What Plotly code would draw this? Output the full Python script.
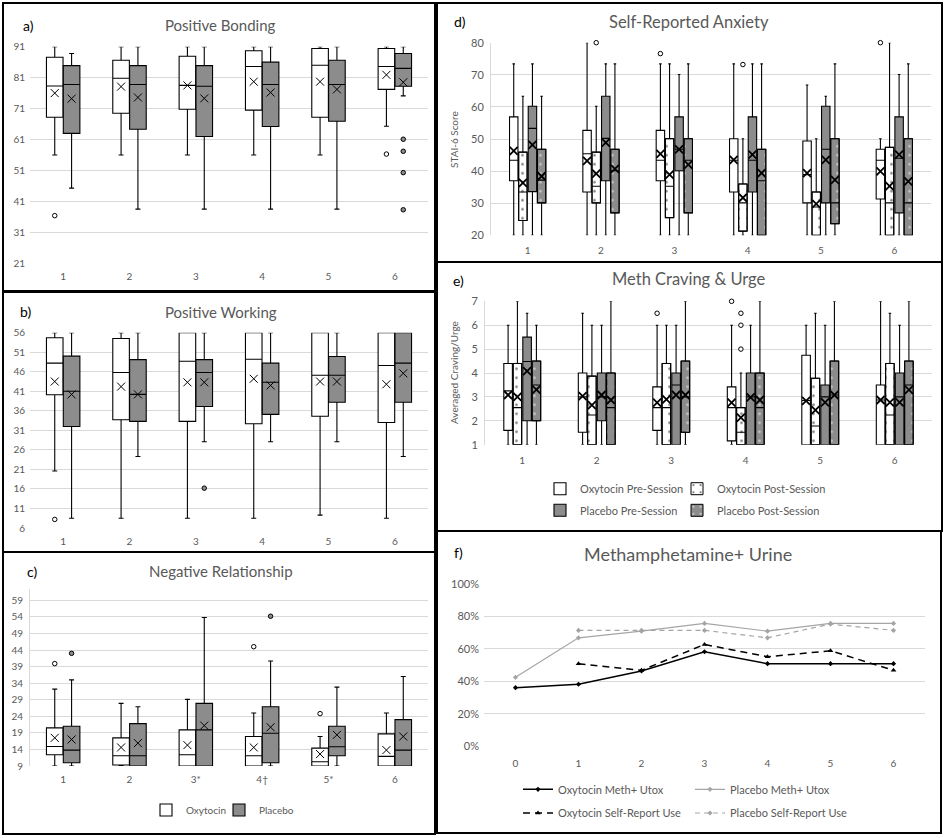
import plotly.graph_objects as go

W, H = 946, 838
FONT = "Lato"
GRID = "#d9d9d9"
TXT = "#595959"
GRAY = "#8c8c8c"

SESSIONS = [1, 2, 3, 4, 5, 6]
AB_TICKS = ["1", "2", "3", "4", "5", "6"]
C_TICKS = ["1", "2", "3*", "4\u2020", "5*", "6"]

# ---------------- a) Positive Bonding ----------------
A_OXY_Q1 = [68.2, 69.5, 70.8, 70.5, 68.2, 77.2]
A_OXY_MED = [78.3, 80.8, 78.5, 84.6, 85.0, 84.6]
A_OXY_Q3 = [87.6, 86.6, 87.9, 89.7, 90.4, 90.4]
A_OXY_LO = [56, 56, 56, 56, 56, 65.3]
A_OXY_HI = [91, 91, 91, 91, 91, 91]
A_OXY_MEAN = [76.0, 78.1, 78.5, 79.7, 79.7, 81.9]
A_OXY_OUT_S = [1, 6]
A_OXY_OUT_V = [36.4, 56.3]
A_PLA_Q1 = [63.0, 64.3, 62.0, 65.2, 66.9, 78.2]
A_PLA_MED = [78.8, 78.8, 78.2, 78.8, 78.8, 84.0]
A_PLA_Q3 = [84.9, 84.9, 84.9, 86.0, 86.6, 88.8]
A_PLA_LO = [45.3, 38.5, 38.5, 38.5, 38.5, 75.1]
A_PLA_HI = [88.8, 91, 91, 91, 91, 91]
A_PLA_MEAN = [74.2, 74.6, 74.3, 76.2, 77.2, 79.5]
A_PLA_OUT_S = [6, 6, 6, 6]
A_PLA_OUT_V = [61.1, 57.2, 50.3, 38.3]

# ---------------- b) Positive Working ----------------
B_OXY_Q1 = [40.1, 33.7, 33.3, 32.7, 34.6, 33.0]
B_OXY_MED = [48.2, 45.8, 48.7, 49.2, 45.1, 47.6]
B_OXY_Q3 = [54.7, 54.5, 56, 56, 56, 56]
B_OXY_LO = [20.6, 8.5, 8.5, 8.5, 9.3, 8.5]
B_OXY_HI = [56, 56, 56, 56, 56, 56]
B_OXY_MEAN = [43.5, 42.2, 43.3, 44.2, 43.5, 42.8]
B_OXY_OUT_S = [1]
B_OXY_OUT_V = [8.2]
B_PLA_Q1 = [32.0, 33.3, 37.1, 35.1, 38.2, 38.2]
B_PLA_MED = [41.0, 40.2, 45.8, 43.3, 45.1, 48.2]
B_PLA_Q3 = [50.0, 49.1, 49.1, 48.2, 49.9, 56]
B_PLA_LO = [8.5, 24.3, 28.1, 28.1, 28.1, 24.3]
B_PLA_HI = [56, 56, 56, 56, 56, 56]
B_PLA_MEAN = [40.2, 40.2, 43.3, 42.5, 43.5, 45.6]
B_PLA_OUT_S = [3]
B_PLA_OUT_V = [16.2]

# ---------------- c) Negative Relationship ----------------
C_OXY_Q1 = [12.4, 9.3, 9, 9, 9, 9]
C_OXY_MED = [14.9, 12.1, 12.4, 12.1, 10.3, 11.9]
C_OXY_Q3 = [20.5, 17.5, 19.9, 17.9, 14.4, 18.7]
C_OXY_LO = [9, 9, 9, 9, 9, 9]
C_OXY_HI = [32.2, 27.9, 29.1, 25.0, 17.9, 25.0]
C_OXY_MEAN = [17.5, 14.6, 15.3, 14.6, 12.6, 13.8]
C_OXY_OUT_S = [1, 4, 5]
C_OXY_OUT_V = [39.9, 45.0, 24.8]
C_PLA_Q1 = [10.0, 9, 9, 10.0, 12.1, 9]
C_PLA_MED = [13.8, 12.1, 19.9, 18.9, 14.8, 13.8]
C_PLA_Q3 = [21.0, 21.8, 27.9, 26.9, 21.0, 23.0]
C_PLA_LO = [9, 9, 9, 9, 9, 9]
C_PLA_HI = [35.0, 26.9, 53.8, 40.7, 32.8, 36.0]
C_PLA_MEAN = [17.0, 15.9, 21.2, 20.7, 18.4, 17.9]
C_PLA_OUT_S = [1, 4]
C_PLA_OUT_V = [43.0, 54.2]

# ---------------- d) Self-Reported Anxiety (STAI-6) ----------------
D_OPRE_Q1 = [37.0, 33.5, 37.0, 33.5, 30.1, 31.3]
D_OPRE_MED = [43.4, 45.4, 43.4, 43.4, 38.9, 43.4]
D_OPRE_Q3 = [56.9, 52.7, 52.7, 50.1, 49.4, 46.8]
D_OPRE_LO = [20, 20, 20, 20, 20, 20]
D_OPRE_HI = [73.4, 80, 73.4, 73.4, 66.8, 50.1]
D_OPRE_MEAN = [46.3, 43.2, 45.4, 43.5, 39.4, 39.9]
D_OPRE_OUT_S = [3, 6]
D_OPRE_OUT_V = [76.6, 80]
D_OPOST_Q1 = [24.6, 30.1, 25.5, 21.3, 20, 20]
D_OPOST_MED = [33.5, 35.3, 35.3, 30.1, 28.8, 30.1]
D_OPOST_Q3 = [45.9, 45.9, 50.1, 36.0, 33.5, 47.4]
D_OPOST_LO = [20, 20, 20, 20, 20, 20]
D_OPOST_HI = [63.3, 60.2, 73.4, 50.1, 50.1, 80]
D_OPOST_MEAN = [36.3, 39.2, 38.9, 31.7, 29.8, 35.3]
D_OPOST_OUT_S = [2, 4]
D_OPOST_OUT_V = [80, 73.2]
D_PPRE_Q1 = [33.6, 37.0, 40.1, 33.5, 30.1, 27.0]
D_PPRE_MED = [53.3, 50.2, 46.8, 43.4, 46.8, 44.0]
D_PPRE_Q3 = [60.2, 63.3, 56.9, 56.9, 60.2, 56.9]
D_PPRE_LO = [20, 20, 20, 20, 20, 20]
D_PPRE_HI = [73.4, 73.4, 70.1, 73.4, 63.3, 70.1]
D_PPRE_MEAN = [48.2, 48.9, 46.8, 45.1, 43.5, 45.1]
D_PPOST_Q1 = [30.1, 27.0, 27.0, 20, 23.6, 20]
D_PPOST_MED = [37.2, 40.1, 43.4, 37.0, 30.1, 30.1]
D_PPOST_Q3 = [46.8, 46.8, 50.1, 46.8, 50.1, 50.1]
D_PPOST_LO = [20, 20, 20, 20, 20, 20]
D_PPOST_HI = [63.3, 73.4, 73.4, 73.4, 73.4, 73.4]
D_PPOST_MEAN = [38.4, 40.7, 42.0, 39.4, 37.3, 36.8]

# ---------------- e) Meth Craving & Urge ----------------
E_OPRE_Q1 = [1.6, 1.52, 1.6, 1.16, 1, 1]
E_OPRE_MED = [3.25, 3.0, 2.55, 2.55, 2.85, 2.87]
E_OPRE_Q3 = [4.4, 4.0, 3.42, 3.42, 4.74, 3.5]
E_OPRE_LO = [1, 1, 1, 1, 1, 1]
E_OPRE_HI = [6, 6.5, 6, 6, 6, 7]
E_OPRE_MEAN = [3.08, 3.03, 2.76, 2.76, 2.83, 2.87]
E_OPRE_OUT_S = [3, 4]
E_OPRE_OUT_V = [6.5, 7]
E_OPOST_Q1 = [1, 1, 1, 1, 1, 1]
E_OPOST_MED = [2.55, 2.24, 2.55, 1.52, 1.78, 2.24]
E_OPOST_Q3 = [4.4, 3.87, 4.4, 2.55, 3.78, 4.4]
E_OPOST_LO = [1, 1, 1, 1, 1, 1]
E_OPOST_HI = [7, 6, 6, 4, 6.5, 6.5]
E_OPOST_MEAN = [3.0, 2.66, 2.9, 2.13, 2.45, 2.77]
E_OPOST_OUT_S = [4, 4, 4]
E_OPOST_OUT_V = [6.5, 6.0, 5.0]
E_PPRE_Q1 = [2.0, 2.0, 1, 1, 1, 1]
E_PPRE_MED = [4.48, 3.0, 3.5, 3.0, 3.0, 3.0]
E_PPRE_Q3 = [5.5, 4.0, 4.0, 4.0, 3.5, 4.0]
E_PPRE_LO = [1, 1, 1, 1, 1, 1]
E_PPRE_HI = [6.5, 6, 6, 6, 6, 6]
E_PPRE_MEAN = [4.08, 3.08, 3.08, 2.98, 2.77, 2.77]
E_PPOST_Q1 = [2.0, 1, 1.52, 1, 1, 1]
E_PPOST_MED = [3.5, 2.55, 3.0, 2.55, 3.08, 3.5]
E_PPOST_Q3 = [4.5, 4.0, 4.5, 4.0, 4.5, 4.5]
E_PPOST_LO = [1, 1, 1, 1, 1, 1]
E_PPOST_HI = [6, 7, 7, 7, 7, 7]
E_PPOST_MEAN = [3.3, 2.87, 3.08, 2.87, 3.08, 3.29]

# ---------------- f) Methamphetamine+ Urine (%) ----------------
F_WEEKS = [0, 1, 2, 3, 4, 5, 6]
F_OXY_UTOX = [36.1, 38.2, 46.4, 58.3, 50.9, 50.9, 50.9]
F_PLA_UTOX = [42.5, 66.9, 71.0, 75.8, 71.0, 75.8, 75.8]
F_SR_WEEKS = [1, 2, 3, 4, 5, 6]
F_OXY_SELF = [50.9, 46.8, 62.8, 55.2, 58.9, 46.8]
F_PLA_SELF = [71.5, 71.5, 71.5, 66.9, 75.4, 71.5]
F_YTICKS = [0, 20, 40, 60, 80, 100]


def dom_x(a, b):
    return [a / W, b / W]


def dom_y(top, bottom):
    return [1 - bottom / H, 1 - top / H]


fig = go.Figure()


def box_set(ax, off, width, q1, med, q3, lo, hi, mean, fill, name,
            out_s=None, out_v=None, dots=None, legend=None, lw=None, xsize=8, xw=1.0):
    xa, ya = ax
    xs = [s + off for s in SESSIONS]
    leg = {} if legend is None else {"legend": legend}
    if lw is not None:
        leg["legendwidth"] = lw
    show_box = legend is not None and dots is None
    if dots is not None:
        fig.add_trace(go.Bar(
            x=xs, y=[b - a for a, b in zip(q1, q3)], base=q1, width=width,
            marker=dict(color=fill, line=dict(color="black", width=1),
                        pattern=dict(shape=".", fgcolor=dots, bgcolor=fill,
                                     size=9, solidity=0.07)),
            name=name, showlegend=legend is not None, hoverinfo="skip",
            xaxis=xa, yaxis=ya, **leg))
        leg = {k: v for k, v in leg.items() if k != "legendwidth"}
    fig.add_trace(go.Box(
        x=xs, q1=q1, median=med, q3=q3, lowerfence=lo, upperfence=hi,
        width=width, whiskerwidth=0.3, boxpoints=False,
        fillcolor="rgba(0,0,0,0)" if dots is not None else fill,
        line=dict(color="black", width=1.1),
        name=name, showlegend=show_box, hoverinfo="skip",
        xaxis=xa, yaxis=ya, **leg))
    fig.add_trace(go.Scatter(
        x=xs, y=mean, mode="markers", showlegend=False, hoverinfo="skip",
        marker=dict(symbol="x-thin", size=xsize, color="black",
                    line=dict(color="black", width=xw)),
        xaxis=xa, yaxis=ya))
    if out_s:
        fig.add_trace(go.Scatter(
            x=[s + off for s in out_s], y=out_v, mode="markers",
            showlegend=False, hoverinfo="skip", cliponaxis=False,
            marker=dict(symbol="circle", size=4.5, color=fill,
                        line=dict(color="black", width=1)),
            xaxis=xa, yaxis=ya))


OFF2, W2 = 0.127, 0.25
# a
box_set(("x", "y"), -OFF2, W2, A_OXY_Q1, A_OXY_MED, A_OXY_Q3, A_OXY_LO, A_OXY_HI,
        A_OXY_MEAN, "white", "Oxytocin", A_OXY_OUT_S, A_OXY_OUT_V)
box_set(("x", "y"), OFF2, W2, A_PLA_Q1, A_PLA_MED, A_PLA_Q3, A_PLA_LO, A_PLA_HI,
        A_PLA_MEAN, GRAY, "Placebo", A_PLA_OUT_S, A_PLA_OUT_V)
# b
box_set(("x2", "y2"), -OFF2, W2, B_OXY_Q1, B_OXY_MED, B_OXY_Q3, B_OXY_LO, B_OXY_HI,
        B_OXY_MEAN, "white", "Oxytocin", B_OXY_OUT_S, B_OXY_OUT_V)
box_set(("x2", "y2"), OFF2, W2, B_PLA_Q1, B_PLA_MED, B_PLA_Q3, B_PLA_LO, B_PLA_HI,
        B_PLA_MEAN, GRAY, "Placebo", B_PLA_OUT_S, B_PLA_OUT_V)
# c
box_set(("x3", "y3"), -OFF2, W2, C_OXY_Q1, C_OXY_MED, C_OXY_Q3, C_OXY_LO, C_OXY_HI,
        C_OXY_MEAN, "white", "Oxytocin", C_OXY_OUT_S, C_OXY_OUT_V, legend="legend", lw=28)
box_set(("x3", "y3"), OFF2, W2, C_PLA_Q1, C_PLA_MED, C_PLA_Q3, C_PLA_LO, C_PLA_HI,
        C_PLA_MEAN, GRAY, "Placebo", C_PLA_OUT_S, C_PLA_OUT_V, legend="legend", lw=50)

OFF4 = [-0.19, -0.065, 0.065, 0.19]
W4 = 0.115
# d
box_set(("x4", "y4"), OFF4[0], W4, D_OPRE_Q1, D_OPRE_MED, D_OPRE_Q3, D_OPRE_LO, D_OPRE_HI,
        D_OPRE_MEAN, "white", "Oxytocin Pre-Session", D_OPRE_OUT_S, D_OPRE_OUT_V, xsize=8, xw=1.8)
box_set(("x4", "y4"), OFF4[1], W4, D_OPOST_Q1, D_OPOST_MED, D_OPOST_Q3, D_OPOST_LO, D_OPOST_HI,
        D_OPOST_MEAN, "white", "Oxytocin Post-Session", D_OPOST_OUT_S, D_OPOST_OUT_V,
        dots="black", xsize=8, xw=1.8)
box_set(("x4", "y4"), OFF4[2], W4, D_PPRE_Q1, D_PPRE_MED, D_PPRE_Q3, D_PPRE_LO, D_PPRE_HI,
        D_PPRE_MEAN, GRAY, "Placebo Pre-Session", xsize=8, xw=1.8)
box_set(("x4", "y4"), OFF4[3], W4, D_PPOST_Q1, D_PPOST_MED, D_PPOST_Q3, D_PPOST_LO, D_PPOST_HI,
        D_PPOST_MEAN, GRAY, "Placebo Post-Session", dots="white", xsize=8, xw=1.8)
# e
box_set(("x5", "y5"), OFF4[0], W4, E_OPRE_Q1, E_OPRE_MED, E_OPRE_Q3, E_OPRE_LO, E_OPRE_HI,
        E_OPRE_MEAN, "white", "Oxytocin Pre-Session", E_OPRE_OUT_S, E_OPRE_OUT_V,
        legend="legend2", lw=92, xsize=8, xw=1.8)
box_set(("x5", "y5"), OFF4[1], W4, E_OPOST_Q1, E_OPOST_MED, E_OPOST_Q3, E_OPOST_LO, E_OPOST_HI,
        E_OPOST_MEAN, "white", "Oxytocin Post-Session", E_OPOST_OUT_S, E_OPOST_OUT_V,
        dots="black", legend="legend2", lw=140, xsize=8, xw=1.8)
box_set(("x5", "y5"), OFF4[2], W4, E_PPRE_Q1, E_PPRE_MED, E_PPRE_Q3, E_PPRE_LO, E_PPRE_HI,
        E_PPRE_MEAN, GRAY, "Placebo Pre-Session", legend="legend3", lw=92, xsize=8, xw=1.8)
box_set(("x5", "y5"), OFF4[3], W4, E_PPOST_Q1, E_PPOST_MED, E_PPOST_Q3, E_PPOST_LO, E_PPOST_HI,
        E_PPOST_MEAN, GRAY, "Placebo Post-Session", dots="white", legend="legend3", lw=140,
        xsize=8, xw=1.8)

# f
LGRAY = "#a5a5a5"
fig.add_trace(go.Scatter(x=F_WEEKS, y=F_OXY_UTOX, mode="lines+markers", name="Oxytocin Meth+ Utox",
                         line=dict(color="black", width=1.5), marker=dict(symbol="diamond", size=4),
                         xaxis="x6", yaxis="y6", legend="legend4", legendwidth=127,
                         hoverinfo="skip"))
fig.add_trace(go.Scatter(x=F_WEEKS, y=F_PLA_UTOX, mode="lines+markers", name="Placebo Meth+ Utox",
                         line=dict(color=LGRAY, width=1.2), marker=dict(symbol="diamond", size=4),
                         xaxis="x6", yaxis="y6", legend="legend4", legendwidth=150,
                         hoverinfo="skip"))
fig.add_trace(go.Scatter(x=F_SR_WEEKS, y=F_OXY_SELF, mode="lines+markers", name="Oxytocin Self-Report Use",
                         line=dict(color="black", width=1.5, dash="7px,5px"),
                         marker=dict(symbol="triangle-up", size=5),
                         xaxis="x6", yaxis="y6", legend="legend5", legendwidth=127,
                         hoverinfo="skip"))
fig.add_trace(go.Scatter(x=F_SR_WEEKS, y=F_PLA_SELF, mode="lines+markers", name="Placebo Self-Report Use",
                         line=dict(color=LGRAY, width=1.2, dash="5px,4px"),
                         marker=dict(symbol="diamond", size=4),
                         xaxis="x6", yaxis="y6", legend="legend5", legendwidth=150,
                         hoverinfo="skip"))

tickfont = dict(family=FONT, size=10, color=TXT)


def xcfg(domain, anchor, ticktext, rng=(0.5, 6.5), tickvals=SESSIONS, standoff=6):
    return dict(domain=dom_x(*domain), anchor=anchor, range=list(rng), tickmode="array",
                tickvals=tickvals, ticktext=ticktext, showgrid=False, zeroline=False,
                showline=False, ticks="", tickfont=tickfont, ticklabelstandoff=standoff,
                fixedrange=True, automargin=False)


def ycfg(domain, anchor, rng, tickvals, ticktext=None, line=False, size=10):
    return dict(domain=dom_y(*domain), anchor=anchor, range=list(rng), tickmode="array",
                tickvals=tickvals, ticktext=ticktext if ticktext else [str(v) for v in tickvals],
                showgrid=True, gridcolor=GRID, gridwidth=1, zeroline=False,
                showline=line, linecolor=GRID, linewidth=1, ticks="",
                tickfont=dict(family=FONT, size=size, color=TXT), ticklabelstandoff=4,
                fixedrange=True, automargin=False)


def legend_cfg(x, y, size=11, xanchor="left"):
    return dict(x=x / W, y=1 - y / H, xanchor=xanchor, yanchor="middle", orientation="h",
                font=dict(family=FONT, size=size, color=TXT), bgcolor="rgba(0,0,0,0)",
                itemclick=False, itemdoubleclick=False)


fig.update_layout(
    width=W, height=H, margin=dict(l=0, r=0, t=0, b=0, pad=0, autoexpand=False),
    autosize=False,
    paper_bgcolor="white", plot_bgcolor="white",
    boxmode="overlay", barmode="overlay", font=dict(family=FONT, color=TXT),
    xaxis=xcfg((30, 428), "y", AB_TICKS),
    yaxis=ycfg((46.7, 263.3), "x", (21, 91), list(range(21, 92, 10))),
    xaxis2=xcfg((30, 428), "y2", AB_TICKS),
    yaxis2=ycfg((332.7, 528), "x2", (6, 56), list(range(6, 57, 5))),
    xaxis3=xcfg((30, 428), "y3", C_TICKS),
    yaxis3=ycfg((588.7, 766), "x3", (9, 62.5), list(range(9, 60, 5)), line=True),
    xaxis4=xcfg((491, 931), "y4", AB_TICKS, standoff=8),
    yaxis4=ycfg((42.7, 235.3), "x4", (20, 80), list(range(20, 81, 10)), line=True, size=11),
    xaxis5=xcfg((485, 932), "y5", AB_TICKS, standoff=8),
    yaxis5=ycfg((301.3, 444.7), "x5", (1, 7), list(range(1, 8)), line=True, size=11),
    xaxis6=xcfg((484, 925), "y6", [str(v) for v in F_WEEKS], rng=(-0.5, 6.5),
                tickvals=F_WEEKS, standoff=10),
    yaxis6=ycfg((584.3, 746), "x6", (0, 100), F_YTICKS,
                ticktext=[f"{v}%" for v in F_YTICKS], size=11),
    legend=legend_cfg(146, 810, size=10),
    legend2=legend_cfg(540, 488.7),
    legend3=legend_cfg(540, 510.3),
    legend4=legend_cfg(518, 789.3),
    legend5=legend_cfg(518, 813),
)

# panel borders
PANELS = [(3, 3, 435, 291), (3, 292, 435, 552), (3, 552, 435, 834),
          (437, 3, 942, 262), (437, 262, 942, 531), (437, 531, 941, 833)]
for (x0, y0, x1, y1) in PANELS:
    fig.add_shape(type="rect", xref="paper", yref="paper",
                  x0=x0 / W, x1=x1 / W, y0=1 - y1 / H, y1=1 - y0 / H,
                  line=dict(color="black", width=2), fillcolor="rgba(0,0,0,0)")

# titles and panel letters
TITLES = [("a)", 21, 25, "Positive Bonding", 220.5, 25, 15),
          ("b)", 18, 312, "Positive Working", 221, 312, 15),
          ("c)", 25, 571, "Negative Relationship", 221, 571, 15),
          ("d)", 452, 22, "Self-Reported Anxiety", 689, 22, 16.5),
          ("e)", 451, 280, "Meth Craving & Urge", 689, 279, 16.5),
          ("f)", 452, 552, "Methamphetamine+ Urine", 688, 554, 18)]
for lab, lx, ly, title, tx, ty, ts in TITLES:
    fig.add_annotation(text=lab, x=lx / W, y=1 - ly / H, xref="paper", yref="paper",
                       xanchor="left", yanchor="middle", showarrow=False,
                       font=dict(family=FONT, size=14, color="black"))
    fig.add_annotation(text=title, x=tx / W, y=1 - ty / H, xref="paper", yref="paper",
                       xanchor="center", yanchor="middle", showarrow=False,
                       font=dict(family=FONT, size=ts, color=TXT))

fig.add_annotation(text="STAI-6 Score", x=454 / W, y=1 - 140 / H, xref="paper", yref="paper",
                   textangle=-90, showarrow=False, xanchor="center", yanchor="middle",
                   font=dict(family=FONT, size=10, color=TXT))
fig.add_annotation(text="Averaged Craving/Urge", x=454 / W, y=1 - 373 / H, xref="paper",
                   yref="paper", textangle=-90, showarrow=False, xanchor="center",
                   yanchor="middle", font=dict(family=FONT, size=10, color=TXT))

POST = ("var gd=document.getElementById('{plot_id}');"
        "gd.style.position='absolute';gd.style.top='0px';gd.style.left='0px';"
        "document.body.style.margin='0';document.body.style.padding='0';"
        "document.documentElement.style.overflow='hidden';")
fig.write_html("out.html", config={"displayModeBar": False}, post_script=POST)
